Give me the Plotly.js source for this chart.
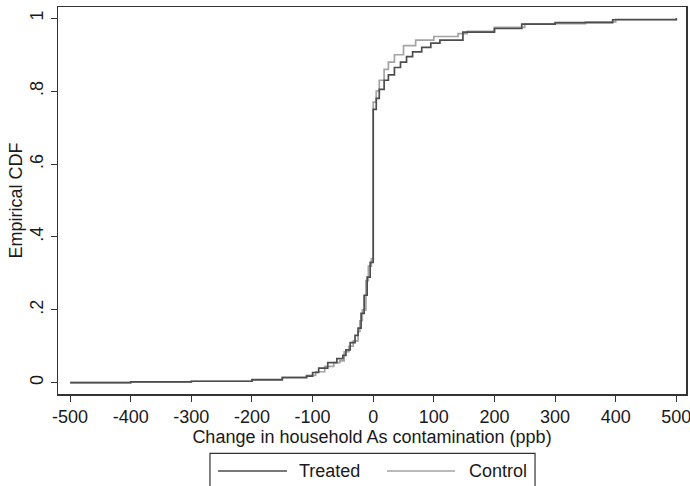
<!DOCTYPE html>
<html>
<head>
<meta charset="utf-8">
<script src="https://cdn.plot.ly/plotly-3.0.1.min.js"></script>
<style>html,body{margin:0;padding:0;background:#fff;}#chart{width:690px;height:486px;}</style>
</head>
<body>
<div id="chart"></div>
<script>
// Treated ECDF (step points)
const treatedX = [-500,-400,-300,-200,-150,-110,-100,-90,-75,-60,-50,-45,-38,-30,-25,-20,-15,-10,-5,0,5,10,18,25,35,45,55,65,80,95,110,148,200,245,300,395,500];
const treatedP = [0,0.002,0.004,0.008,0.014,0.018,0.028,0.04,0.055,0.066,0.075,0.09,0.11,0.13,0.15,0.19,0.24,0.29,0.33,0.75,0.78,0.805,0.83,0.845,0.865,0.88,0.895,0.908,0.92,0.932,0.94,0.962,0.972,0.984,0.988,0.996,1];
// Control ECDF (step points)
const controlX = [-500,-400,-300,-200,-150,-110,-95,-80,-65,-55,-48,-40,-33,-25,-22,-18,-12,-8,-3,0,5,10,18,25,35,50,70,100,140,155,200,250,350,400,500];
const controlP = [0,0.002,0.004,0.009,0.015,0.02,0.03,0.045,0.055,0.06,0.085,0.1,0.115,0.14,0.17,0.2,0.28,0.32,0.34,0.77,0.8,0.83,0.86,0.88,0.9,0.925,0.94,0.95,0.958,0.964,0.975,0.985,0.99,0.997,1];

const xTicks = [-500,-400,-300,-200,-100,0,100,200,300,400,500];
const yTickVals = [0,0.2,0.4,0.6,0.8,1];
const yTickText = ["0",".2",".4",".6",".8","1"];
const seriesNames = ["Treated","Control"];
const seriesColors = ["#4d4d4d","#a3a3a3"];

const font = "Liberation Sans, Arial, sans-serif";

const traces = [
  {x: controlX, y: controlP, type:'scatter', mode:'lines', name:seriesNames[1], line:{shape:'hv', color:seriesColors[1], width:1.7}},
  {x: treatedX, y: treatedP, type:'scatter', mode:'lines', name:seriesNames[0], line:{shape:'hv', color:seriesColors[0], width:1.7}}
];

// Legend drawn in paper coordinates (Stata-style box with long line keys)
const legY = -0.199;
const shapes = [
  {type:'rect', xref:'paper', yref:'paper', x0:0.242, x1:0.7596, y0:-0.1532, y1:-0.27, line:{color:'#333', width:1.2}, fillcolor:'rgba(0,0,0,0)'},
  {type:'line', xref:'paper', yref:'paper', x0:0.2548, x1:0.3646, y0:legY, y1:legY, line:{color:seriesColors[0], width:1.7}},
  {type:'line', xref:'paper', yref:'paper', x0:0.5239, x1:0.6322, y0:legY, y1:legY, line:{color:seriesColors[1], width:1.7}}
];
const annotations = [
  {xref:'paper', yref:'paper', x:0.3806, y:legY, xanchor:'left', yanchor:'middle', text:seriesNames[0], showarrow:false, font:{size:18, color:'#1a1a1a'}},
  {xref:'paper', yref:'paper', x:0.6513, y:legY, xanchor:'left', yanchor:'middle', text:seriesNames[1], showarrow:false, font:{size:18, color:'#1a1a1a'}}
];

const layout = {
  width:690, height:486,
  margin:{l:58, r:4, t:7, b:92},
  paper_bgcolor:'#fff', plot_bgcolor:'#fff',
  font:{family:font, size:18, color:'#1a1a1a'},
  xaxis:{
    range:[-520,516], tickvals:xTicks, ticktext:xTicks.map(String),
    ticks:'outside', ticklen:6, tickwidth:1, tickcolor:'#333', ticklabeloverflow:'allow',
    showgrid:false, zeroline:false, showline:true, linecolor:'#333', linewidth:1.5, mirror:true,
    title:{text:'Change in household As contamination (ppb)', font:{size:18}, standoff:3},
    tickfont:{size:18}
  },
  yaxis:{
    range:[-0.031,1.031], tickvals:yTickVals, ticktext:yTickText, tickangle:-90,
    ticks:'outside', ticklen:6, tickwidth:1, tickcolor:'#333',
    showgrid:false, zeroline:false, showline:true, linecolor:'#333', linewidth:1.5, mirror:true,
    title:{text:'Empirical CDF', font:{size:18}, standoff:0},
    tickfont:{size:18}
  },
  showlegend:false,
  shapes:shapes,
  annotations:annotations
};

Plotly.newPlot('chart', traces, layout, {displayModeBar:false, staticPlot:true});
</script>
</body>
</html>
